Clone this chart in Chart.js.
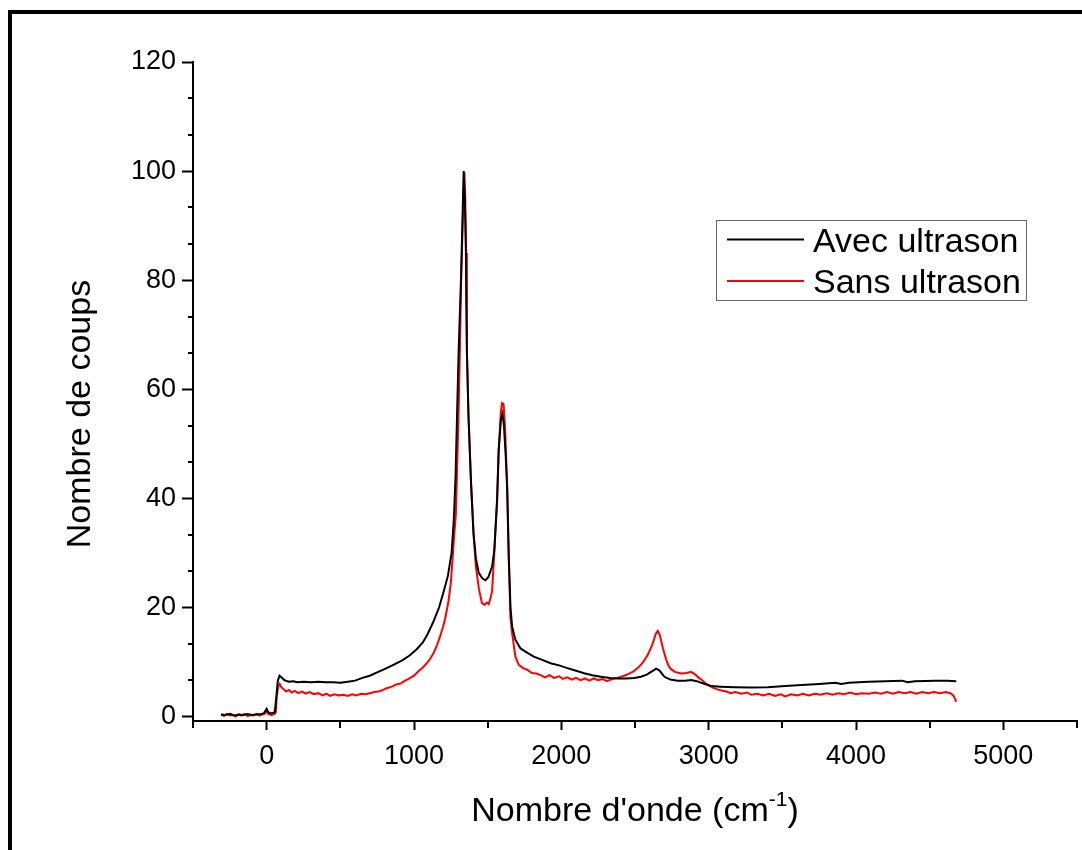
<!DOCTYPE html>
<html>
<head>
<meta charset="utf-8">
<script src="https://cdn.jsdelivr.net/npm/chart.js@4.4.1/dist/chart.umd.min.js"></script>
<style>
  html, body { margin: 0; padding: 0; background: #ffffff; }
  #wrap { width: 1082px; height: 850px; position: relative; }
</style>
</head>
<body>
<div id="wrap"><canvas id="c" width="1082" height="850"></canvas></div>
<script>
// ---- Data ----
const seriesLabels = ["Avec ultrason", "Sans ultrason"];
const xAxisTitle = "Nombre d'onde (cm";
const xAxisTitleSup = "-1";
const yAxisTitle = "Nombre de coups";
const xTickValues = [0, 1000, 2000, 3000, 4000, 5000];
const yTickValues = [0, 20, 40, 60, 80, 100, 120];
const xMinorTicks = [-500, 500, 1500, 2500, 3500, 4500, 5500];
const yMinorTicks = [6.667, 13.333, 26.667, 33.333, 46.667, 53.333, 66.667, 73.333, 86.667, 93.333, 106.667, 113.333];

// Avec ultrason (black)
const avecX = [-310,-280,-250,-220,-190,-160,-130,-100,-70,-40,-20,0,10,30,55,65,75,87,100,120,150,180,210,250,300,350,400,450,500,550,600,650,700,750,800,860,920,970,1020,1060,1090,1130,1170,1200,1230,1255,1270,1282,1292,1303,1318,1328,1337,1345,1352,1359,1370,1387,1404,1420,1440,1465,1485,1505,1530,1545,1564,1575,1590,1600,1610,1622,1632,1643,1655,1666,1688,1723,1770,1813,1870,1927,1985,2041,2100,2155,2210,2268,2330,2382,2440,2495,2540,2580,2620,2643,2665,2700,2740,2790,2840,2881,2920,2950,2985,3018,3080,3177,3290,3400,3520,3631,3750,3859,3900,3950,4086,4200,4313,4350,4400,4541,4620,4680];
const avecY = [0.4,0.3,0.5,0.2,0.4,0.3,0.5,0.3,0.4,0.5,0.6,1.4,0.8,0.6,0.8,3.5,6.5,7.5,7.2,6.7,6.4,6.5,6.3,6.4,6.3,6.4,6.3,6.3,6.2,6.4,6.6,7.1,7.5,8.1,8.7,9.5,10.3,11.2,12.4,13.6,15.0,17.3,20.0,22.8,25.8,30.0,36,44,55,67,79.5,90,100,95,85.5,67,55,43,33.6,29,26.3,25.3,25.0,25.6,27.5,30.5,39.7,48.9,54.5,55.5,53.5,48,42,29,20,16.5,14.1,12.5,11.7,11.0,10.4,9.8,9.4,8.9,8.4,7.95,7.6,7.3,7.1,7.0,7.0,7.1,7.3,7.7,8.4,8.8,8.5,7.3,6.8,6.6,6.6,6.7,6.5,6.2,5.9,5.6,5.5,5.4,5.35,5.4,5.6,5.8,6.0,6.2,6.0,6.2,6.4,6.5,6.6,6.3,6.5,6.6,6.6,6.5];

// Sans ultrason (red)
const sansX = [-310,-290,-270,-250,-230,-210,-190,-170,-150,-130,-110,-90,-70,-50,-30,-10,0,10,30,50,62,68,78,88,100,115,132,150,170,190,215,240,265,290,320,350,380,405,430,460,490,520,550,580,610,640,670,700,730,760,790,814,850,880,910,940,970,1000,1030,1060,1087,1110,1132,1155,1177,1195,1211,1234,1250,1262,1272,1284,1295,1302,1312,1320,1330,1338,1342,1348,1354,1359,1370,1387,1404,1420,1440,1461,1480,1495,1507,1520,1530,1545,1564,1575,1590,1598,1608,1618,1632,1643,1654,1666,1688,1711,1740,1768,1800,1830,1859,1890,1920,1950,1985,2010,2041,2070,2100,2130,2160,2190,2220,2250,2280,2310,2336,2360,2390,2427,2460,2490,2518,2550,2586,2615,2640,2654,2668,2690,2711,2730,2745,2770,2813,2850,2880,2905,2930,2950,2975,2995,3030,3060,3086,3120,3150,3180,3222,3260,3290,3330,3370,3410,3450,3490,3518,3560,3600,3640,3680,3720,3760,3800,3840,3880,3920,3960,4000,4040,4086,4130,4170,4210,4250,4290,4330,4370,4410,4450,4490,4530,4570,4610,4640,4660,4670,4680];
const sansY = [0.4,0.1,0.5,0.2,0.3,0.0,0.4,0.2,0.5,0.1,0.3,0.2,0.5,0.2,0.4,0.6,1.3,0.5,0.3,0.4,0.8,3.5,5.5,6.0,5.4,5.0,4.6,4.9,4.4,4.7,4.3,4.6,4.2,4.5,4.1,4.3,3.9,4.2,3.8,4.1,3.9,4.0,3.8,4.1,3.9,4.2,4.1,4.3,4.5,4.6,4.9,5.2,5.5,5.9,6.1,6.6,7.0,7.5,8.3,9.0,9.8,10.6,11.6,13.0,14.7,16.3,17.9,21.1,24.5,29,33,37,48,55,68,79.5,90,97,99.8,95,85,67,55,42.8,33.6,27.5,23.5,20.8,20.5,20.9,20.6,21.8,23,30,39.7,48.9,56,57.5,57.3,53,42.8,30.5,18.3,15.3,11.0,9.5,8.9,8.6,8.0,7.9,7.6,7.2,7.6,7.1,7.4,6.9,7.2,6.8,7.1,6.7,7.0,6.6,7.0,6.7,6.9,6.5,6.8,7.0,7.2,7.5,7.9,8.3,8.9,9.8,11.3,13.0,15.1,15.7,15.0,12.5,10.5,9.2,8.7,8.2,7.9,8.0,8.2,7.8,7.2,6.8,6.2,5.8,5.3,5.0,4.8,4.6,4.3,4.5,4.2,4.4,4.0,4.2,3.9,4.2,3.8,4.1,3.7,4.1,3.9,4.2,3.9,4.2,4.0,4.3,4.0,4.3,4.1,4.4,4.1,4.3,4.2,4.4,4.2,4.5,4.2,4.5,4.3,4.5,4.2,4.5,4.3,4.5,4.3,4.5,4.3,3.9,3.4,2.7];

const seriesColors = ["#000000", "#ff0000"];

// ---- Build datasets ----
function pairs(xs, ys) { return xs.map((x, i) => ({ x: x, y: ys[i] })); }

const FONT = "'Liberation Sans', Arial, sans-serif";
const TITLE_SIZE = 34;

const extrasPlugin = {
  id: 'extras',
  afterDraw(chart) {
    const ctx = chart.ctx;
    const xs = chart.scales.x, ys = chart.scales.y;
    const axisY = xs.top;
    const axisX = ys.right;
    ctx.save();
    // minor ticks
    ctx.strokeStyle = '#000';
    ctx.lineWidth = 2;
    ctx.beginPath();
    xMinorTicks.forEach(v => {
      const px = Math.round(xs.getPixelForValue(v));
      ctx.moveTo(px, axisY); ctx.lineTo(px, axisY + 7);
    });
    yMinorTicks.forEach(v => {
      const py = Math.round(ys.getPixelForValue(v));
      ctx.moveTo(axisX, py); ctx.lineTo(axisX - 5, py);
    });
    ctx.stroke();

    // outer frame (left and top)
    ctx.fillStyle = '#000';
    ctx.fillRect(8, 10, 4, 840);
    ctx.fillRect(8, 10, 1074, 4);

    // axis titles
    ctx.fillStyle = '#000';
    ctx.font = TITLE_SIZE + 'px ' + FONT;
    ctx.textBaseline = 'alphabetic';
    const mainW = ctx.measureText(xAxisTitle).width;
    ctx.font = '21px ' + FONT;
    const supW = ctx.measureText(xAxisTitleSup).width;
    ctx.font = TITLE_SIZE + 'px ' + FONT;
    const closeW = ctx.measureText(')').width;
    const total = mainW + supW + closeW;
    const cx = (xs.left + xs.right) / 2;
    let tx = cx - total / 2;
    const baseY = 821;
    ctx.textAlign = 'left';
    ctx.fillText(xAxisTitle, tx, baseY);
    ctx.font = '21px ' + FONT;
    ctx.fillText(xAxisTitleSup, tx + mainW, baseY - 15);
    ctx.font = TITLE_SIZE + 'px ' + FONT;
    ctx.fillText(')', tx + mainW + supW, baseY);

    ctx.save();
    ctx.translate(90, 414);
    ctx.rotate(-Math.PI / 2);
    ctx.textAlign = 'center';
    ctx.textBaseline = 'alphabetic';
    ctx.font = TITLE_SIZE + 'px ' + FONT;
    ctx.fillText(yAxisTitle, 0, 0);
    ctx.restore();

    // legend
    ctx.strokeStyle = '#666';
    ctx.lineWidth = 1;
    ctx.strokeRect(716.5, 220.5, 310, 80);
    const rows = [239.5, 281];
    const bases = [252, 293];
    chart.data.datasets.forEach((ds, i) => {
      ctx.strokeStyle = ds.borderColor;
      ctx.lineWidth = 2;
      ctx.beginPath();
      ctx.moveTo(727, rows[i]); ctx.lineTo(804, rows[i]);
      ctx.stroke();
      ctx.fillStyle = '#000';
      ctx.font = TITLE_SIZE + 'px ' + FONT;
      ctx.textAlign = 'left';
      ctx.textBaseline = 'alphabetic';
      ctx.fillText(ds.label, 813, bases[i]);
    });
    ctx.restore();
  }
};

const chart = new Chart(document.getElementById('c'), {
  type: 'line',
  data: {
    datasets: [
      { label: seriesLabels[0], data: pairs(avecX, avecY), borderColor: seriesColors[0], borderWidth: 2, pointRadius: 0, tension: 0, fill: false },
      { label: seriesLabels[1], data: pairs(sansX, sansY), borderColor: seriesColors[1], borderWidth: 2, pointRadius: 0, tension: 0, fill: false }
    ]
  },
  options: {
    responsive: false,
    animation: false,
    events: [],
    layout: { padding: { left: 0, top: 62, right: 5, bottom: 0 } },
    plugins: { legend: { display: false }, tooltip: { enabled: false }, title: { display: false } },
    scales: {
      x: {
        type: 'linear',
        min: -500, max: 5500,
        afterBuildTicks: s => { s.ticks = xTickValues.map(v => ({ value: v })); },
        afterFit: s => { s.height = 129; },
        grid: { drawOnChartArea: false, drawTicks: true, tickLength: 9, tickColor: '#000', tickWidth: 2 },
        border: { display: true, color: '#000', width: 2 },
        ticks: { color: '#000', font: { family: FONT, size: 27 }, padding: 10, maxRotation: 0, autoSkip: false, callback: v => String(v) },
        title: { display: false }
      },
      y: {
        type: 'linear',
        min: -0.8, max: 120,
        afterBuildTicks: s => { s.ticks = yTickValues.map(v => ({ value: v })); },
        afterFit: s => { s.width = 193; },
        grid: { drawOnChartArea: false, drawTicks: true, tickLength: 11, tickColor: '#000', tickWidth: 2 },
        border: { display: true, color: '#000', width: 2 },
        ticks: { color: '#000', font: { family: FONT, size: 27 }, padding: 6, autoSkip: false, callback: v => String(v) },
        title: { display: false }
      }
    }
  },
  plugins: [extrasPlugin]
});
</script>
</body>
</html>
